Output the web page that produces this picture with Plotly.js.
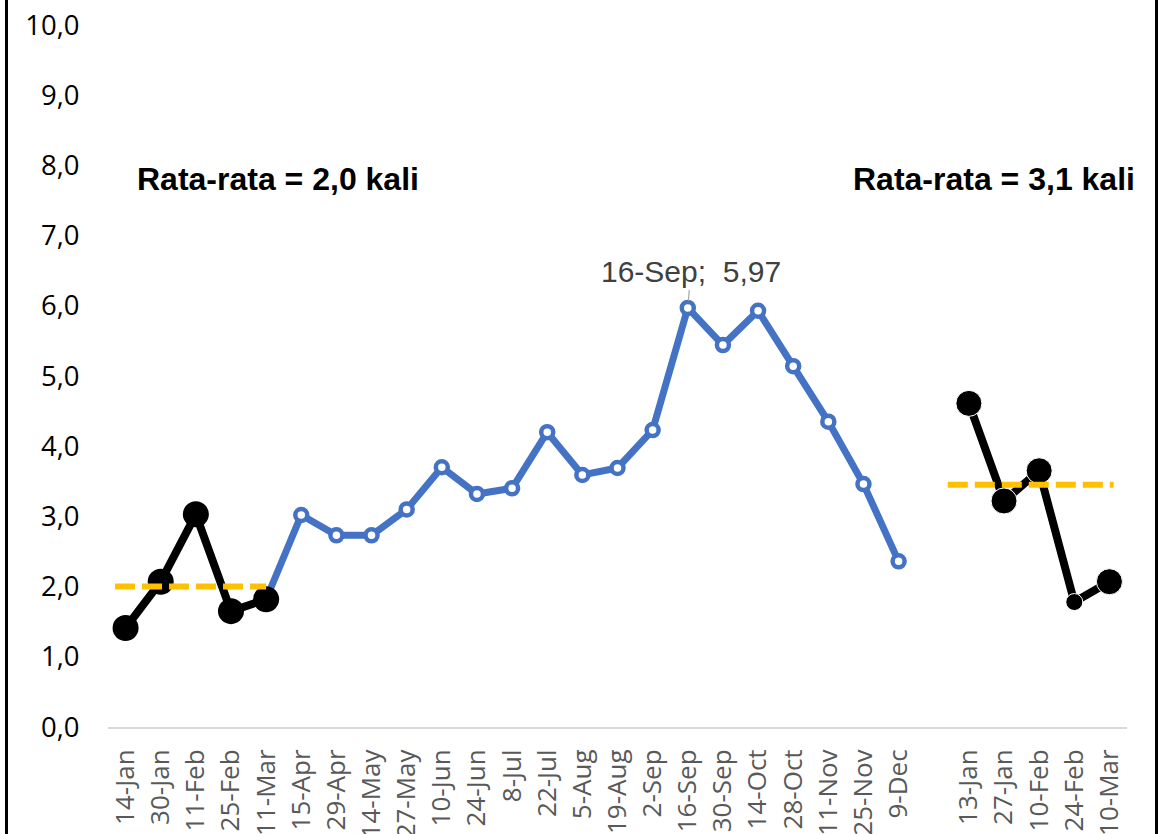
<!DOCTYPE html>
<html>
<head>
<meta charset="utf-8">
<script src="https://cdn.plot.ly/plotly-3.0.1.min.js"></script>
<style>
  html, body { margin: 0; padding: 0; background: #fff; overflow: hidden; }
  #frame { position: absolute; left: 5px; top: -10px; width: 1147px; height: 860px;
           border-left: 3px solid #000; border-right: 3px solid #000; pointer-events: none; }
  #chart { position: absolute; left: 0; top: 0; width: 1160px; height: 834px; }
</style>
</head>
<body>
<div id="chart"></div>
<div id="frame"></div>
<script>
// ---- data ----
const categories = ['14-Jan','30-Jan','11-Feb','25-Feb','11-Mar','15-Apr','29-Apr','14-May','27-May',
  '10-Jun','24-Jun','8-Jul','22-Jul','5-Aug','19-Aug','2-Sep','16-Sep','30-Sep','14-Oct','28-Oct',
  '11-Nov','25-Nov','9-Dec','','13-Jan','27-Jan','10-Feb','24-Feb','10-Mar'];
const before = [1.41, 2.07, 3.03, 1.65, 1.82, null, null, null, null, null, null, null, null, null,
  null, null, null, null, null, null, null, null, null, null, null, null, null, null, null];
const during = [null, null, null, null, 1.82, 3.02, 2.73, 2.73, 3.10, 3.70, 3.32, 3.40, 4.20, 3.59,
  3.69, 4.23, 5.97, 5.44, 5.93, 5.14, 4.35, 3.46, 2.36, null, null, null, null, null, null];
const after = [null, null, null, null, null, null, null, null, null, null, null, null, null, null,
  null, null, null, null, null, null, null, null, null, null, 4.61, 3.22, 3.65, 1.78, 2.07];
const avgLevels = [2.0, 3.45];
const avgLabels = ['Rata-rata = 2,0 kali', 'Rata-rata = 3,1 kali'];
const peakIndex = 16;
const yTicks = [0,1,2,3,4,5,6,7,8,9,10];

// ---- build ----
const idx = categories.map((c, i) => i);
const tickIdx = idx.filter(i => categories[i] !== '');
const tickTxt = tickIdx.map(i => categories[i]);
const nCat = categories.length;
const toPaper = i => (i + 0.5) / nCat;

function segRange(arr) {
  const ids = arr.map((v, i) => v === null ? null : i).filter(v => v !== null);
  return [ids[0], ids[ids.length - 1]];
}
const r1 = segRange(before), r2 = segRange(after);

const blackSizes = after.map((v, i) => i === 27 ? 17 : 26);

const traces = [
  { x: idx, y: during, type: 'scatter', mode: 'lines+markers', connectgaps: false,
    line: { color: '#4472C4', width: 7 },
    marker: { symbol: 'circle', size: 12, color: '#FFFFFF', opacity: 1, line: { color: '#4472C4', width: 4.5 } },
    hoverinfo: 'skip' },
  { x: idx, y: before, type: 'scatter', mode: 'lines+markers',
    line: { color: '#000000', width: 8 },
    marker: { symbol: 'circle', size: 26, color: '#000000', opacity: 1 }, hoverinfo: 'skip' },
  { x: idx, y: after, type: 'scatter', mode: 'lines+markers',
    line: { color: '#000000', width: 8 },
    marker: { symbol: 'circle', size: blackSizes, color: '#000000', opacity: 1 }, hoverinfo: 'skip' },
  { x: [r1[0] - 0.3, r1[1]], y: [avgLevels[0], avgLevels[0]], type: 'scatter', mode: 'lines',
    line: { color: '#FFC000', width: 6, dash: '20px,7px' }, hoverinfo: 'skip' },
  { x: [r2[0] - 0.6, r2[1] + 0.12], y: [avgLevels[1], avgLevels[1]], type: 'scatter', mode: 'lines',
    line: { color: '#FFC000', width: 6, dash: '20px,7px' }, hoverinfo: 'skip' }
];

const fmt = v => v.toFixed(2).replace('.', ',');

const layout = {
  width: 1160, height: 834,
  margin: { l: 108, r: 33, t: 25, b: 107 },
  paper_bgcolor: '#FFFFFF', plot_bgcolor: '#FFFFFF',
  showlegend: false,
  separators: ',.',
  font: { family: 'Open Sans, Arial, sans-serif' },
  xaxis: {
    type: 'linear', range: [-0.5, nCat - 0.5],
    tickmode: 'array', tickvals: tickIdx, ticktext: tickTxt, tickangle: -90,
    showgrid: false, zeroline: false,
    showline: true, linecolor: '#D9D9D9', linewidth: 2,
    ticks: 'outside', ticklen: 10, tickcolor: 'rgba(0,0,0,0)',
    tickfont: { family: 'Open Sans, sans-serif', size: 26, color: '#595959' }
  },
  yaxis: {
    range: [0, 10], tickmode: 'array', tickvals: yTicks, tickformat: '.1f',
    showgrid: false, zeroline: false, showline: false,
    ticks: 'outside', ticklen: 22, tickcolor: 'rgba(0,0,0,0)',
    tickfont: { family: 'Open Sans, sans-serif', size: 27.5, color: '#000000' }
  },
  annotations: [
    { xref: 'paper', yref: 'y', x: toPaper(r1[0] + 0.27), xanchor: 'left', y: 7.8, text: '<b>' + avgLabels[0] + '</b>',
      showarrow: false, font: { family: 'Liberation Sans, Arial, sans-serif', size: 32, color: '#000' } },
    { xref: 'paper', yref: 'y', x: toPaper(r2[1] + 0.78), xanchor: 'right', y: 7.8, text: '<b>' + avgLabels[1] + '</b>',
      showarrow: false, font: { family: 'Liberation Sans, Arial, sans-serif', size: 32, color: '#000' } },
    { xref: 'x', yref: 'y', x: peakIndex, y: during[peakIndex],
      text: categories[peakIndex] + ';  ' + fmt(during[peakIndex]),
      showarrow: true, arrowhead: 0, arrowwidth: 1.2, arrowcolor: '#A6A6A6',
      ax: 3, ay: -36, standoff: 7,
      font: { family: 'Liberation Sans, Arial, sans-serif', size: 30, color: '#404040' } }
  ]
};

Plotly.newPlot('chart', traces, layout, { staticPlot: true, displayModeBar: false });
</script>
</body>
</html>
